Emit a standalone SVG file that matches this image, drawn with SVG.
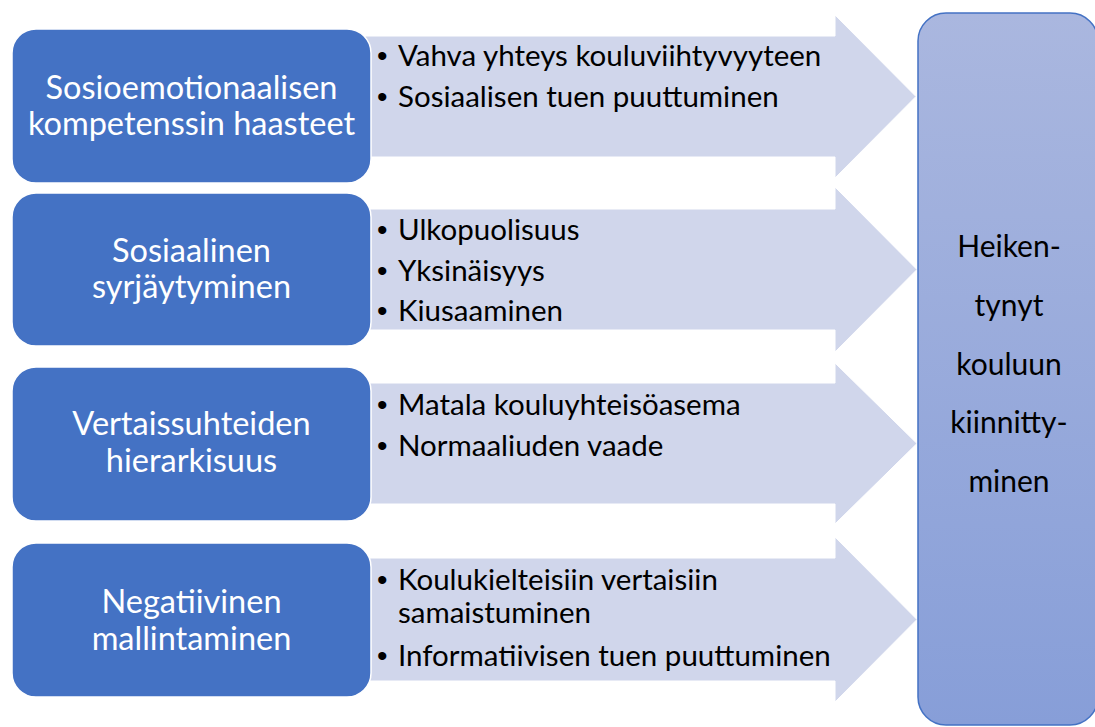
<svg xmlns="http://www.w3.org/2000/svg" width="1095" height="727" viewBox="0 0 1095 727">
  <defs>
    <linearGradient id="gRight" x1="0" y1="0" x2="0" y2="1">
      <stop offset="0" stop-color="#aab7df"/>
      <stop offset="1" stop-color="#879ed8"/>
    </linearGradient>
    <style>
      .arrow { fill: #d0d6eb; stroke: #ffffff; stroke-width: 1; }
      .box { fill: #4472c4; stroke: #ffffff; stroke-width: 1.5; }
      .boxtxt { font-family: Lato, "Liberation Sans", sans-serif; font-size: 32.5px; fill: #ffffff; text-anchor: middle; }
      .item { font-family: Lato, "Liberation Sans", sans-serif; font-size: 29.5px; fill: #000000; }
      .bul { font-family: "Liberation Sans", sans-serif; font-size: 30px; fill: #000000; }
      .right { fill: url(#gRight); stroke: #4472c4; stroke-width: 1.5; }
      .rtxt { font-family: Lato, "Liberation Sans", sans-serif; font-size: 30px; fill: #000000; text-anchor: middle; }
    </style>
  </defs>
  <rect width="1095" height="727" fill="#ffffff"/>

  <g id="connectors">
    <polygon class="arrow" points="365,36 835,36 835,15 916,96.5 835,178 835,157 365,157"/>
    <polygon class="arrow" points="365,209 835,209 835,187 917,269.5 835,352 835,330 365,330"/>
    <polygon class="arrow" points="365,383 835,383 835,363 917,443.5 835,524 835,504 365,504"/>
    <polygon class="arrow" points="365,558 835,558 835,537 917,619.5 835,702 835,681 365,681"/>
  </g>

  <g id="node-right">
    <rect class="right" x="918" y="13" width="180" height="712" rx="28"/>
    <text class="rtxt" x="1009" y="257">Heiken-</text>
    <text class="rtxt" x="1009" y="316">tynyt</text>
    <text class="rtxt" x="1009" y="375">kouluun</text>
    <text class="rtxt" x="1009" y="433">kiinnitty-</text>
    <text class="rtxt" x="1009" y="492">minen</text>
  </g>

  <g id="node-1">
    <rect class="box" x="12" y="29" width="359" height="154" rx="24"/>
    <text class="boxtxt" x="191.5" y="99">Sosioemotionaalisen</text>
    <text class="boxtxt" x="191.5" y="135">kompetenssin haasteet</text>
  </g>
  <g id="list-1">
    <text class="bul" x="377" y="66">•</text>
    <text class="item" x="398" y="66">Vahva yhteys kouluviihtyvyyteen</text>
    <text class="bul" x="377" y="107">•</text>
    <text class="item" x="398" y="107">Sosiaalisen tuen puuttuminen</text>
  </g>

  <g id="node-2">
    <rect class="box" x="12" y="193" width="359" height="153" rx="24"/>
    <text class="boxtxt" x="191.5" y="262">Sosiaalinen</text>
    <text class="boxtxt" x="191.5" y="298">syrjäytyminen</text>
  </g>
  <g id="list-2">
    <text class="bul" x="377" y="240">•</text>
    <text class="item" x="398" y="240">Ulkopuolisuus</text>
    <text class="bul" x="377" y="281">•</text>
    <text class="item" x="398" y="281">Yksinäisyys</text>
    <text class="bul" x="377" y="321">•</text>
    <text class="item" x="398" y="321">Kiusaaminen</text>
  </g>

  <g id="node-3">
    <rect class="box" x="12" y="367" width="359" height="154" rx="24"/>
    <text class="boxtxt" x="191.5" y="435">Vertaissuhteiden</text>
    <text class="boxtxt" x="191.5" y="472">hierarkisuus</text>
  </g>
  <g id="list-3">
    <text class="bul" x="377" y="415">•</text>
    <text class="item" x="398" y="415">Matala kouluyhteisöasema</text>
    <text class="bul" x="377" y="456">•</text>
    <text class="item" x="398" y="456">Normaaliuden vaade</text>
  </g>

  <g id="node-4">
    <rect class="box" x="12" y="543" width="359" height="154" rx="24"/>
    <text class="boxtxt" x="191.5" y="613">Negatiivinen</text>
    <text class="boxtxt" x="191.5" y="650">mallintaminen</text>
  </g>
  <g id="list-4">
    <text class="bul" x="377" y="590">•</text>
    <text class="item" x="398" y="590">Koulukielteisiin vertaisiin</text>
    <text class="item" x="398" y="623">samaistuminen</text>
    <text class="bul" x="377" y="666">•</text>
    <text class="item" x="398" y="666">Informatiivisen tuen puuttuminen</text>
  </g>
</svg>
